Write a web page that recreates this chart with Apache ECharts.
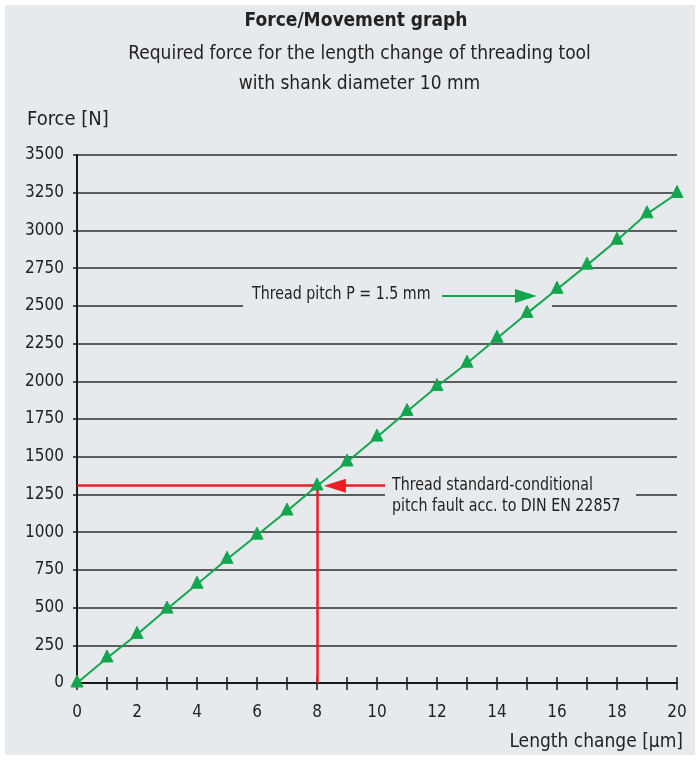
<!DOCTYPE html>
<html>
<head>
<meta charset="utf-8">
<script src="https://cdn.jsdelivr.net/npm/echarts@6/dist/echarts.min.js"></script>
<style>
html,body{margin:0;padding:0;background:#ffffff;width:699px;height:761px;overflow:hidden;}
#c{position:absolute;left:5px;top:5px;width:690px;height:750px;}
</style>
</head>
<body>
<div id="c"></div>
<script>
// ---- data ----
const xValues = [0,1,2,3,4,5,6,7,8,9,10,11,12,13,14,15,16,17,18,19,20];
const forceValues = [0,166,322,490,655,820,980,1140,1306,1465,1630,1800,1965,2120,2285,2450,2610,2770,2935,3110,3245];
const yTicks = {min:0, max:3500, step:250};
const xTicks = {min:0, max:20, step:1, labelEvery:2};
const titleText = 'Force/Movement graph';
const subtitleLines = ['Required force for the length change of threading tool','with shank diameter 10 mm'];
const yName = 'Force [N]';
const xName = 'Length change [µm]';
// annotation: thread standard pitch fault (red)
const faultX = 8;
const faultForce = 1308;
const faultArrowFromX = 10.27;
const faultArrowTipX = 8.23;
const faultText = ['Thread standard-conditional','pitch fault acc. to DIN EN 22857'];
// annotation: thread pitch (green arrow)
const pitchForce = 2565;
const pitchArrowFromX = 12.17;
const pitchArrowTipX = 15.33;
const pitchText = 'Thread pitch P = 1.5 mm';

const FONT = '"Liberation Sans Narrow","DejaVu Sans Condensed",Arial,sans-serif';
const GREEN = '#12a64e';
const RED = '#ee1c25';
const BG = '#e7eaed';
const HEAD_LEN = 22;

const chart = echarts.init(document.getElementById('c'));
const xPerPx = (xTicks.max - xTicks.min) / (690 - 72 - 18);
const option = {
  backgroundColor: BG,
  animation: false,
  textStyle: {fontFamily: FONT},
  title: [
    {text: yName, left: 17, top: 100, textStyle:{fontFamily:FONT, fontSize:20, fontWeight:'normal', color:'#222'}}
  ],
  grid: {left: 72, right: 18, top: 150, bottom: 72, containLabel:false},
  xAxis: [
    {
      type:'value', min:xTicks.min, max:xTicks.max, interval:xTicks.step,
      axisLine:{show:true, onZero:false, lineStyle:{color:'#1a1a1a', width:2}},
      axisTick:{show:true, inside:false, length:7, lineStyle:{color:'#1a1a1a', width:1.5}},
      axisLabel:{fontFamily:FONT, fontSize:17, color:'#222', margin:21,
        formatter: v => (v % xTicks.labelEvery === 0 ? String(v) : '')},
      splitLine:{show:false},
      name: xName, nameLocation:'end', nameGap: 0,
      nameTextStyle:{fontFamily:FONT, fontSize:19, color:'#222', align:'right', verticalAlign:'top', padding:[50,-6,0,0]}
    },
    {
      type:'value', min:xTicks.min, max:xTicks.max, interval:xTicks.step, position:'bottom',
      axisLine:{show:false}, axisLabel:{show:false}, splitLine:{show:false},
      axisTick:{show:true, inside:true, length:6, lineStyle:{color:'#1a1a1a', width:1.5}}
    }
  ],
  yAxis: {
    type:'value', min:yTicks.min, max:yTicks.max, interval:yTicks.step,
    axisLine:{show:true, onZero:false, lineStyle:{color:'#1a1a1a', width:2}},
    axisTick:{show:true, inside:false, length:4, lineStyle:{color:'#1a1a1a', width:1.5}},
    axisLabel:{fontFamily:FONT, fontSize:17, color:'#222', margin:13, formatter: v => String(v)},
    splitLine:{show:true, lineStyle:{color:'#2e2e2e', width:1.6}}
  },
  series: [
    {
      type:'line', z:5,
      data: xValues.map((x,i)=>[x, forceValues[i]]),
      symbol:'triangle', symbolSize:12, symbolOffset:[0,-2],
      itemStyle:{color:GREEN, borderColor:GREEN, borderWidth:1},
      lineStyle:{color:GREEN, width:2},
      markLine:{
        silent:true, animation:false, symbol:['none','none'],
        label:{show:false},
        lineStyle:{type:'solid', width:2.5, color:RED},
        data:[
          [{coord:[0,faultForce], symbol:'none'},{coord:[faultX,faultForce], symbol:'none'}],
          [{coord:[faultX,0], symbol:'none'},{coord:[faultX,faultForce], symbol:'none'}],
          [{coord:[faultArrowFromX,faultForce], symbol:'none'},{coord:[faultArrowTipX + xPerPx*HEAD_LEN/2,faultForce], symbol:'triangle', symbolSize:[14,HEAD_LEN]}],
          [{coord:[pitchArrowFromX,pitchForce], symbol:'none', lineStyle:{color:GREEN, width:2}},{coord:[pitchArrowTipX - xPerPx*HEAD_LEN/2,pitchForce], symbol:'triangle', symbolSize:[14,HEAD_LEN], lineStyle:{color:GREEN, width:2}}]
        ]
      }
    }
  ]
};
chart.setOption(option);

// titles, annotation texts and gridline masks (placed through axis scales)
const p = (x,y)=>chart.convertToPixel({xAxisIndex:0, yAxisIndex:0},[x,y]);
const g25 = p(0,2500), g125 = p(0,1250);
const pitchPos = p(pitchArrowFromX, pitchForce);
const faultPos = p(faultArrowFromX, faultForce);
chart.setOption({
  graphic:[
    {type:'text', z:10, x:351, y:16, style:{text:titleText, fontFamily:FONT, fontSize:19, fontWeight:'bold', fill:'#222', align:'center', verticalAlign:'middle'}},
    {type:'text', z:10, x:354.5, y:49, style:{text:subtitleLines[0], fontFamily:FONT, fontSize:19, fill:'#222', align:'center', verticalAlign:'middle'}},
    {type:'text', z:10, x:354.5, y:79, style:{text:subtitleLines[1], fontFamily:FONT, fontSize:19, fill:'#222', align:'center', verticalAlign:'middle'}},
    {type:'rect', z:1, silent:true, shape:{x:238, y:g25[1]-3, width:309, height:6}, style:{fill:BG}},
    {type:'rect', z:1, silent:true, shape:{x:380, y:g125[1]-3, width:251, height:6}, style:{fill:BG}},
    {type:'text', z:10, x:247, y:pitchPos[1]-10, scaleX:0.93, style:{text:pitchText, fontFamily:FONT, fontSize:17, fill:'#222'}},
    {type:'text', z:10, x:387, y:faultPos[1]-11, scaleX:0.93, style:{text:faultText.join('\n'), fontFamily:FONT, fontSize:17, fill:'#222', lineHeight:21}}
  ]
});
</script>
</body>
</html>
